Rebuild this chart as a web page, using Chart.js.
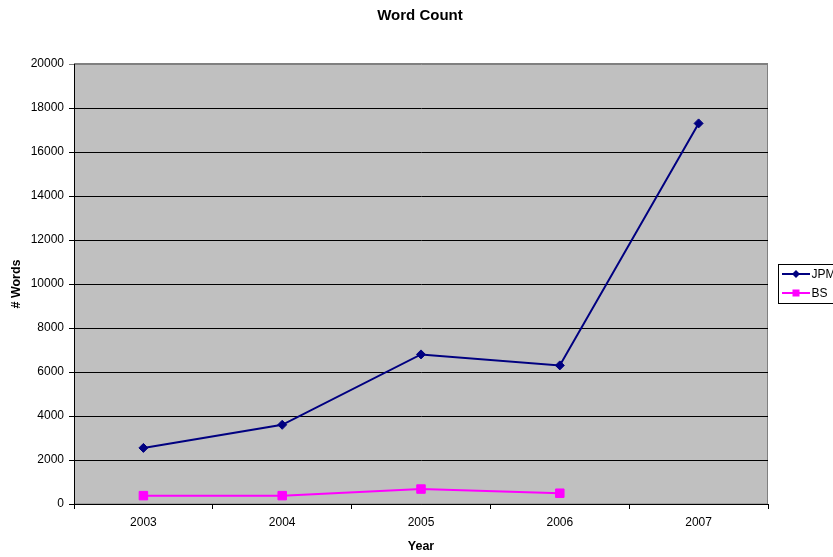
<!DOCTYPE html>
<html>
<head>
<meta charset="utf-8">
<title>Word Count</title>
<script src="https://cdn.jsdelivr.net/npm/chart.js@4.4.1/dist/chart.umd.min.js"></script>
<style>
  html, body { margin: 0; padding: 0; background: #ffffff; }
  #wrap { width: 833px; height: 557px; }
</style>
</head>
<body>
<div id="wrap"><canvas id="chart" width="833" height="557"></canvas></div>
<script>
// Yearly word counts
const years = ['2003', '2004', '2005', '2006', '2007'];
const jpmWords = [2550, 3600, 6800, 6300, 17300];
const bsWords = [380, 380, 680, 490, null];
const seriesNames = ['JPM', 'BS'];

const FONT = '"Liberation Sans", Arial, sans-serif';

// Grey plot background with a grey frame, Excel style
const plotBackground = {
  id: 'plotBackground',
  beforeDraw(chart) {
    const { ctx, chartArea: a } = chart;
    ctx.save();
    ctx.fillStyle = '#c0c0c0';
    ctx.fillRect(a.left, a.top, a.right - a.left, a.bottom - a.top);
    ctx.strokeStyle = '#808080';
    ctx.lineWidth = 1;
    ctx.strokeRect(a.left + 0.5, a.top - 0.5, a.right - a.left - 1, a.bottom - a.top + 0.5);
    ctx.restore();
  }
};

// Chart title and boxed legend on the right
const titleAndLegend = {
  id: 'titleAndLegend',
  afterDraw(chart) {
    const { ctx, chartArea: a } = chart;
    ctx.save();
    ctx.fillStyle = '#000';
    ctx.font = 'bold 15px ' + FONT;
    ctx.textAlign = 'center';
    ctx.textBaseline = 'middle';
    ctx.fillText('Word Count', 420, 16);

    const bx = a.right + 10.5, by = 264.5;
    ctx.fillStyle = '#ffffff';
    ctx.fillRect(bx, by, 70, 39);
    ctx.strokeStyle = '#000';
    ctx.lineWidth = 1;
    ctx.strokeRect(bx, by, 70, 39);

    chart.data.datasets.forEach((ds, i) => {
      const y = by + 9.5 + i * 19;
      ctx.strokeStyle = ds.borderColor;
      ctx.lineWidth = 2;
      ctx.beginPath();
      ctx.moveTo(bx + 3.5, y);
      ctx.lineTo(bx + 31.5, y);
      ctx.stroke();
      ctx.fillStyle = ds.borderColor;
      const cx = bx + 17.5;
      if (ds.pointStyle === 'rectRot') {
        ctx.beginPath();
        ctx.moveTo(cx, y - 4);
        ctx.lineTo(cx + 4, y);
        ctx.lineTo(cx, y + 4);
        ctx.lineTo(cx - 4, y);
        ctx.closePath();
        ctx.fill();
      } else {
        ctx.fillRect(cx - 3.5, y - 3.5, 7, 7);
      }
      ctx.fillStyle = '#000';
      ctx.font = '12px ' + FONT;
      ctx.textAlign = 'left';
      ctx.textBaseline = 'middle';
      ctx.fillText(ds.label, bx + 33, y + 0.5);
    });
    ctx.restore();
  }
};

new Chart(document.getElementById('chart'), {
  type: 'line',
  data: {
    labels: years,
    datasets: [
      {
        label: seriesNames[0],
        data: jpmWords,
        borderColor: '#000080',
        backgroundColor: '#000080',
        borderWidth: 2,
        pointStyle: 'rectRot',
        pointRadius: 4.5,
        pointBorderWidth: 1,
        tension: 0,
        fill: false
      },
      {
        label: seriesNames[1],
        data: bsWords,
        borderColor: '#ff00ff',
        backgroundColor: '#ff00ff',
        borderWidth: 2,
        pointStyle: 'rect',
        pointRadius: 6,
        pointBorderWidth: 1,
        tension: 0,
        fill: false
      }
    ]
  },
  options: {
    responsive: false,
    animation: false,
    devicePixelRatio: 1,
    layout: { padding: { left: 0, top: 64, right: 65, bottom: 0 } },
    plugins: {
      legend: { display: false },
      title: { display: false },
      tooltip: { enabled: false }
    },
    scales: {
      x: {
        type: 'category',
        offset: true,
        afterFit(scale) { scale.height = 53; },
        grid: {
          display: true,
          drawOnChartArea: false,
          drawTicks: true,
          tickLength: 5,
          offset: true,
          color: '#000'
        },
        border: { display: true, color: '#000', width: 1 },
        ticks: {
          color: '#000',
          font: { family: FONT, size: 12 },
          padding: 6,
          maxRotation: 0
        },
        title: {
          display: true,
          text: 'Year',
          color: '#000',
          font: { family: FONT, size: 12.5, weight: 'bold', lineHeight: 1.2 },
          padding: { top: 0, bottom: 2.5 }
        }
      },
      y: {
        min: 0,
        max: 20000,
        afterFit(scale) { scale.width = 74; },
        grid: {
          color: (c) => (c.tick && c.tick.value === 20000 ? '#808080' : '#000'),
          lineWidth: 1,
          drawTicks: true,
          tickLength: 5
        },
        border: { display: true, color: '#000', width: 1 },
        ticks: {
          stepSize: 2000,
          color: '#000',
          font: { family: FONT, size: 12 },
          padding: 5,
          callback: (value) => String(value)
        },
        title: {
          display: true,
          text: '# Words',
          color: '#000',
          font: { family: FONT, size: 12.5, weight: 'bold', lineHeight: 1.2 },
          padding: { top: 9, bottom: 0 }
        }
      }
    }
  },
  plugins: [plotBackground, titleAndLegend]
});
</script>
</body>
</html>
